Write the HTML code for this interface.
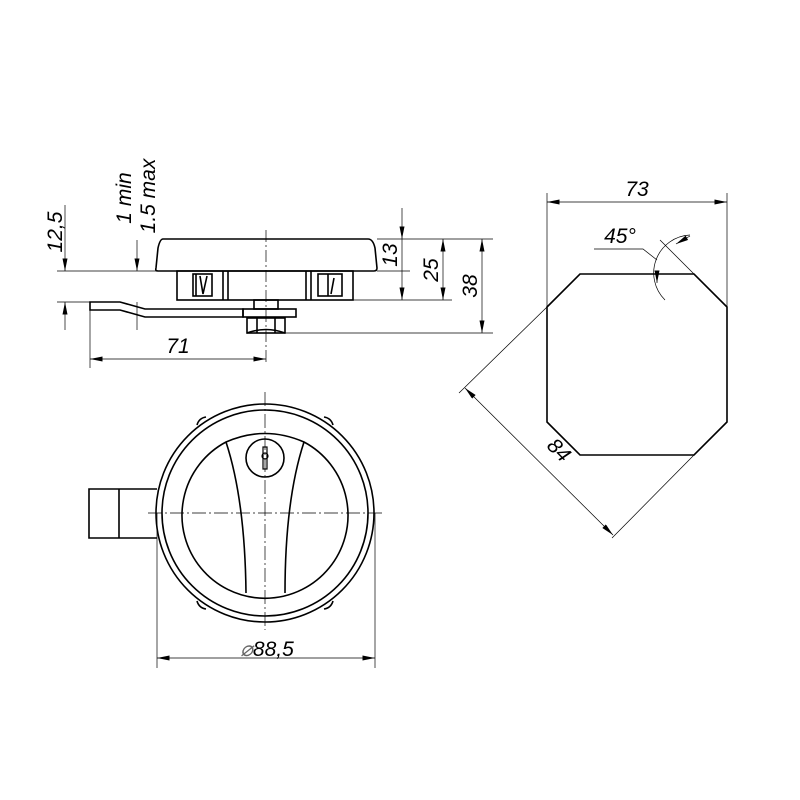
<!DOCTYPE html>
<html><head><meta charset="utf-8"><style>
html,body{margin:0;padding:0;background:#fff}
svg{display:block}
text{font-family:"Liberation Sans",sans-serif;font-style:italic;fill:#000}
</style></head><body>
<svg width="800" height="800" viewBox="0 0 800 800" xmlns="http://www.w3.org/2000/svg">
<defs>
<marker id="a" viewBox="0 0 10 4" refX="10" refY="2" markerWidth="14" markerHeight="5" orient="auto-start-reverse" markerUnits="userSpaceOnUse"><path d="M0,0L10,2L0,4z" fill="#000"/></marker>
</defs>
<g fill="none" stroke="#000" stroke-width="1.6">
<path d="M163,239 L368,239 Q373,239 375,248 L377,268 Q377,271 374,271 L158,271 Q155,271 156,268 L158,248 Q160,239 163,239Z" fill="#fff"/>
<rect x="177" y="271" width="176" height="29"/>
<line x1="223" y1="271" x2="223" y2="300"/><line x1="228" y1="271" x2="228" y2="300"/>
<line x1="306" y1="271" x2="306" y2="300"/><line x1="311" y1="271" x2="311" y2="300"/>
<rect x="193" y="274" width="19" height="22"/><line x1="196" y1="274" x2="196" y2="296"/>
<path d="M200,276 L203,294 L207,276"/>
<rect x="318" y="274" width="24" height="22"/><line x1="328" y1="274" x2="328" y2="296"/>
<path d="M331,294 L334,278"/>
<path d="M90,302 L120,302 L145,309 L243,309 L243,317 L145,317 L120,310 L90,310Z"/>
<rect x="254" y="300" width="24" height="9"/>
<rect x="243" y="309" width="53" height="8"/>
<rect x="247" y="318" width="38" height="15"/>
<line x1="257" y1="318" x2="257" y2="333"/><line x1="275" y1="318" x2="275" y2="333"/>
<path d="M247,333 Q266,326 285,333"/>
<circle cx="265" cy="513" r="109"/>
<circle cx="265" cy="513" r="103"/>
<path d="M226,442 A83,83 0 1 0 304,442 Q265,425 226,442Z"/>
<path d="M226,442 Q245,500 246,593"/>
<path d="M304,442 Q285,500 285,593"/>
<circle cx="265" cy="458" r="19"/>
<rect x="263" y="447" width="4" height="22" stroke-width="1.2"/>
<circle cx="265" cy="456" r="3" stroke-width="1.2"/>
<path d="M197,425 Q199,418 206,417"/><path d="M324,417 Q331,418 333,425"/>
<path d="M197,601 Q199,608 206,609"/><path d="M324,609 Q331,608 333,601"/>
<path d="M157,489 L89,489 L89,538 L157,538"/>
<line x1="119" y1="489" x2="119" y2="538"/>
<path d="M580,274 L694,274 L727,307 L727,422 L694,455 L580,455 L547,422 L547,307Z"/>
</g>
<g fill="none" stroke="#000" stroke-width="0.7">
<line x1="266" y1="230" x2="266" y2="365" stroke-dasharray="12,3,2,3"/>
<line x1="148" y1="513" x2="385" y2="513" stroke-dasharray="14,3,2,3"/>
<line x1="265" y1="392" x2="265" y2="630" stroke-dasharray="14,3,2,3"/>
<line x1="57" y1="271" x2="156" y2="271"/>
<line x1="57" y1="302" x2="90" y2="302"/>
<line x1="377" y1="239" x2="493" y2="239"/>
<line x1="377" y1="271" x2="410" y2="271"/>
<line x1="353" y1="300" x2="452" y2="300"/>
<line x1="285" y1="333" x2="493" y2="333"/>
<line x1="90" y1="310" x2="90" y2="368"/>
<line x1="65" y1="205" x2="65" y2="271" marker-end="url(#a)"/>
<line x1="65" y1="330" x2="65" y2="302" marker-end="url(#a)"/>
<line x1="137" y1="240" x2="137" y2="271" marker-end="url(#a)"/>
<line x1="137" y1="302" x2="137" y2="330"/>
<line x1="402" y1="208" x2="402" y2="239" marker-end="url(#a)"/>
<line x1="402" y1="239" x2="402" y2="300" marker-end="url(#a)"/>
<line x1="443" y1="239" x2="443" y2="300" marker-start="url(#a)" marker-end="url(#a)"/>
<line x1="482" y1="239" x2="482" y2="333" marker-start="url(#a)" marker-end="url(#a)"/>
<line x1="90" y1="359" x2="266" y2="359" marker-start="url(#a)" marker-end="url(#a)"/>
<line x1="157" y1="513" x2="157" y2="668"/>
<line x1="375" y1="513" x2="375" y2="668"/>
<line x1="157" y1="658" x2="375" y2="658" marker-start="url(#a)" marker-end="url(#a)"/>
<line x1="547" y1="193" x2="547" y2="307"/>
<line x1="727" y1="193" x2="727" y2="307"/>
<line x1="547" y1="202" x2="727" y2="202" marker-start="url(#a)" marker-end="url(#a)"/>
<line x1="547" y1="307" x2="459" y2="393"/>
<line x1="694" y1="455" x2="612" y2="538"/>
<line x1="465" y1="388" x2="613" y2="535" marker-start="url(#a)" marker-end="url(#a)"/>
<line x1="694" y1="274" x2="660" y2="240"/>
<polyline points="594,249 643,249 657,260"/>
<path d="M690,235 A38,38 0 0 0 665,300"/>
<line x1="676" y1="244" x2="690" y2="236" marker-start="url(#a)"/>
<line x1="657" y1="283" x2="657" y2="272" marker-start="url(#a)"/>
</g>
<g font-size="21">
<text x="62" y="232" transform="rotate(-90 62 232)" text-anchor="middle">12,5</text>
<text x="131" y="198" transform="rotate(-90 131 198)" text-anchor="middle">1 min</text>
<text x="155" y="196" transform="rotate(-90 155 196)" text-anchor="middle">1.5 max</text>
<text x="397" y="255" transform="rotate(-90 397 255)" text-anchor="middle">13</text>
<text x="438" y="270" transform="rotate(-90 438 270)" text-anchor="middle">25</text>
<text x="477" y="286" transform="rotate(-90 477 286)" text-anchor="middle">38</text>
<text x="178" y="353" text-anchor="middle">71</text>
<text x="267" y="656" text-anchor="middle"><tspan font-weight="normal" fill="#666">⌀</tspan>88,5</text>
<text x="637" y="196" text-anchor="middle">73</text>
<text x="620" y="243" text-anchor="middle">45°</text>
<text x="554" y="455" transform="rotate(45 554 455)" text-anchor="middle">84</text>
</g>
</svg>
</body></html>
